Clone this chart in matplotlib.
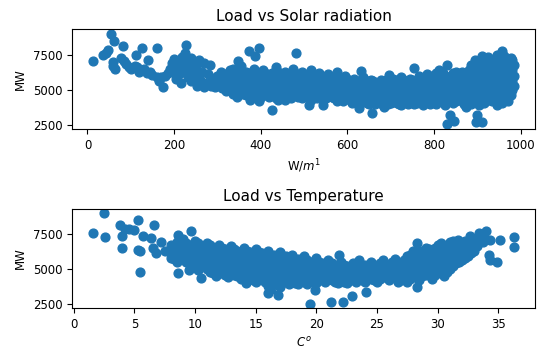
import matplotlib
matplotlib.use("Agg")
import matplotlib.pyplot as plt

# --- Load vs Solar radiation (W/m^1, MW) ---
solar_pts = [
    (13, 7050), (37, 7500), (42, 7650), (48, 7800), (54, 9000), (58, 6950), (60, 6700),
    (62, 8450), (64, 6450), (82, 8150), (78, 7250), (85, 7050), (90, 6850), (95, 6600),
    (100, 6500), (112, 7500), (110, 6700), (115, 6600), (120, 6300), (126, 7950),
    (130, 6500), (138, 6200), (140, 7150), (145, 6300), (150, 6050), (161, 8000),
    (160, 5900), (165, 5600), (170, 5900), (175, 5200), (180, 5950), (185, 6200),
    (190, 6500), (195, 6900), (198, 6300), (200, 7200), (205, 5800), (205, 6600),
    (210, 7000), (212, 6100), (215, 5500), (218, 7300), (220, 6700), (222, 6300),
    (225, 7600), (228, 8200), (230, 6900), (232, 5900), (235, 6500), (238, 7250),
    (240, 5600), (242, 6200), (245, 7000), (248, 5800), (250, 6600), (252, 5300),
    (255, 6200), (258, 7100), (260, 5700), (262, 5500), (265, 6300), (268, 6900),
    (270, 5200), (275, 5500), (278, 6100), (283, 6740), (285, 5300), (290, 5800),
    (295, 5200), (298, 6000), (300, 5400), (305, 5700), (308, 6300), (310, 5100),
    (315, 5500), (318, 6100), (320, 4900), (325, 5700), (328, 6400), (330, 5300),
    (335, 6500), (335, 5900), (335, 5300), (335, 4700),
    (345, 6200), (345, 5600), (345, 5000), (345, 4500), (348, 7020),
    (355, 6700), (355, 5800), (355, 5200), (355, 4800),
    (365, 6300), (365, 5500), (365, 4600), (372, 7740),
    (375, 6000), (375, 5300), (375, 4900), (375, 4300), (386, 7380),
    (385, 6500), (385, 5700), (385, 5100), (397, 7980),
    (395, 6100), (395, 5400), (395, 4700), (395, 4200),
    (405, 6400), (405, 5800), (405, 5000),
    (415, 6000), (415, 5400), (415, 4600),
    (425, 3570), (425, 6200), (425, 5600), (425, 4900),
    (435, 6600), (435, 5800), (435, 5100), (435, 4400),
    (445, 6000), (445, 5300), (445, 4700),
    (455, 6300), (455, 5600), (455, 4900), (455, 4300),
    (465, 5900), (465, 5200), (465, 4600),
    (475, 6500), (475, 5500), (475, 4800), (482, 7620),
    (485, 6100), (485, 5300), (485, 4500),
    (495, 6300), (495, 5700), (495, 5000), (495, 4400),
    (505, 5900), (505, 5200), (505, 4700), (512, 3930),
    (515, 6400), (515, 5500), (515, 4900), (515, 4300),
    (525, 6000), (525, 5300), (525, 4600),
    (535, 6200), (535, 5600), (535, 4900), (543, 3930),
    (545, 5800), (545, 5100), (545, 4400),
    (555, 6100), (555, 5400), (555, 4700),
    (565, 5900), (565, 5100), (565, 4500),
    (575, 6300), (575, 5600), (575, 4800), (575, 4200),
    (585, 5700), (585, 5000), (585, 4400),
    (595, 6000), (595, 5300), (595, 4600),
    (605, 5500), (605, 4900), (605, 4300),
    (615, 5800), (615, 5100), (615, 4500), (627, 3690),
    (625, 5600), (625, 4800), (625, 4200), (631, 6310),
    (635, 5900), (635, 5200), (635, 4600),
    (645, 5400), (645, 4800), (645, 4100),
    (655, 5700), (655, 5000), (655, 4400), (658, 3340),
    (665, 5300), (665, 4600), (665, 4000), (677, 5715),
    (675, 5100), (675, 4500),
    (685, 5600), (685, 4900), (685, 4200), (685, 3800), (697, 6070),
    (695, 5300), (695, 4600), (695, 4000),
    (705, 5800), (705, 5100), (705, 4400),
    (715, 5500), (715, 4800), (715, 4100),
    (725, 5900), (725, 5200), (725, 4500), (725, 3900),
    (735, 5400), (735, 4700), (735, 4200),
    (745, 5800), (745, 5100), (745, 4400), (754, 6550),
    (755, 5500), (755, 4800), (755, 4000),
    (765, 6000), (765, 5300), (765, 4600),
    (775, 5700), (775, 5000), (775, 4300), (775, 3900),
    (785, 6100), (785, 5500), (785, 4800), (785, 4200),
    (795, 5800), (795, 5100), (795, 4500),
    (805, 6200), (805, 5400), (805, 4700), (805, 4000), (812, 6430),
    (815, 5700), (815, 5000), (815, 4300),
    (825, 6000), (825, 5300), (825, 4600), (825, 3900), (829, 6790),
    (831, 2550), (838, 3220), (846, 2800),
    (835, 5700), (835, 5000), (835, 4400),
    (845, 6200), (845, 5500), (845, 4800), (845, 4100),
    (855, 5900), (855, 5200), (855, 4500),
    (865, 6300), (865, 5600), (865, 4900), (865, 4200),
    (875, 5800), (875, 5100), (875, 4400), (875, 3800),
    (885, 6800), (885, 6100), (885, 5400), (885, 4700), (885, 4000),
    (895, 7100), (895, 6400), (895, 5700), (895, 5000), (895, 4300),
    (896, 2740), (900, 3220), (911, 7380), (911, 2740),
    (905, 6700), (905, 6000), (905, 5300), (905, 4600), (905, 3900),
    (915, 6900), (915, 6200), (915, 5500), (915, 4800), (915, 4100),
    (925, 7300), (925, 6600), (925, 5900), (925, 5200), (925, 4500),
    (935, 7000), (935, 6300), (935, 5600), (935, 4900), (935, 4200),
    (945, 7500), (945, 6700), (945, 6000), (945, 5300), (945, 4600), (945, 3950),
    (957, 7740), (957, 6900), (957, 6200), (957, 5500), (957, 4800), (957, 4100),
    (965, 7300), (965, 6500), (965, 5800), (965, 5100), (965, 4400),
    (977, 7260), (977, 6600), (977, 5900), (977, 5200), (977, 4600),
    (985, 6800), (985, 6000), (985, 5300),
    # staggered readings inside the dense band
    (340, 6000), (340, 5400), (340, 4900), (350, 6400), (350, 5700), (350, 5000),
    (360, 6000), (360, 5300), (360, 4700), (370, 6200), (370, 5600), (370, 5000),
    (380, 5900), (380, 5200), (380, 4600), (390, 6300), (390, 5500), (390, 4900),
    (400, 6000), (400, 5300), (400, 4500), (410, 6200), (410, 5600), (410, 4900),
    (420, 5800), (420, 5100), (420, 4500), (430, 6100), (430, 5400), (430, 4700),
    (440, 6300), (440, 5600), (440, 4900), (440, 4300), (450, 5800), (450, 5100),
    (450, 4500), (460, 6100), (460, 5400), (460, 4800), (470, 5700), (470, 5000),
    (470, 4400), (480, 6000), (480, 5200), (480, 4600), (490, 5800), (490, 5100),
    (490, 4700), (500, 6100), (500, 5400), (500, 4800), (510, 5700), (510, 5000),
    (510, 4500), (520, 5900), (520, 5200), (520, 4600), (530, 5700), (530, 5000),
    (530, 4400), (540, 6000), (540, 5300), (540, 4600), (550, 5600), (550, 5000),
    (550, 4400), (560, 5800), (560, 5200), (560, 4600), (570, 5500), (570, 4900),
    (570, 4400), (580, 5900), (580, 5300), (580, 4600), (590, 5500), (590, 4800),
    (590, 4200), (600, 5800), (600, 5100), (600, 4500), (610, 5400), (610, 4700),
    (610, 4100), (620, 5600), (620, 5000), (620, 4400), (630, 5300), (630, 4700),
    (630, 4100), (640, 5700), (640, 5000), (640, 4400), (650, 5300), (650, 4600),
    (650, 4000), (660, 5600), (660, 4900), (660, 4300), (670, 5400), (670, 4800),
    (670, 4200), (680, 5200), (680, 4600), (680, 4000), (690, 5700), (690, 5000),
    (690, 4400), (700, 5300), (700, 4700), (700, 4100), (710, 5700), (710, 5000),
    (710, 4400), (720, 5300), (720, 4600), (720, 4000), (730, 5700), (730, 5000),
    (730, 4400), (740, 5300), (740, 4600), (740, 4000), (750, 5700), (750, 5100),
    (750, 4500), (760, 5400), (760, 4700), (760, 4100), (770, 5800), (770, 5100),
    (770, 4500), (780, 5500), (780, 4900), (780, 4100), (790, 6000), (790, 5300),
    (790, 4700), (790, 4000), (800, 5600), (800, 5000), (800, 4300), (810, 5900),
    (810, 5200), (810, 4500), (820, 6200), (820, 5600), (820, 4900), (820, 4200),
    (830, 5800), (830, 5100), (830, 4400), (840, 6000), (840, 5300), (840, 4700),
    (850, 6300), (850, 5600), (850, 4900), (850, 4200), (860, 5800), (860, 5100),
    (860, 4400), (870, 6000), (870, 5300), (870, 4600), (870, 4000), (880, 6400),
    (880, 5700), (880, 5000), (880, 4300), (890, 6700), (890, 6000), (890, 5300),
    (890, 4600), (900, 7000), (900, 6300), (900, 5600), (900, 4900), (900, 4200),
    (910, 6500), (910, 5800), (910, 5100), (910, 4400), (920, 7000), (920, 6300),
    (920, 5600), (920, 4900), (920, 4200), (930, 6700), (930, 6000), (930, 5300),
    (930, 4600), (940, 7200), (940, 6500), (940, 5800), (940, 5100), (940, 4400),
    (950, 7000), (950, 6300), (950, 5600), (950, 4900), (950, 4300), (960, 7500),
    (960, 6700), (960, 6000), (960, 5300), (960, 4600), (970, 7000), (970, 6300),
    (970, 5600), (970, 4900), (970, 4200), (980, 7100), (980, 6400), (980, 5600),
    (980, 5000),
]
solar = [p[0] for p in solar_pts]
load_solar = [p[1] for p in solar_pts]

# --- Load vs Temperature (C, MW) ---
temp_pts = [
    (1.6, 7550), (2.5, 8930), (2.6, 7260), (3.8, 8095), (4.0, 7310), (4.0, 6480),
    (4.2, 7800), (4.6, 7850), (5.0, 7750), (5.3, 8430), (5.3, 6360), (5.5, 6240),
    (5.5, 4810), (5.7, 7310), (6.4, 7190), (6.6, 8095), (6.5, 6500), (7.2, 6900),
    (6.8, 6100), (7.5, 6300), (8.0, 5800), (8.6, 7430), (8.6, 4690), (9.7, 7670),
    (8.0, 6700), (8.0, 6200),
    (8.5, 6900), (8.5, 6000), (8.5, 5500),
    (9.0, 7100), (9.0, 6400), (9.0, 5800),
    (9.5, 6700), (9.5, 6100), (9.5, 5400), (9.5, 4900),
    (10.0, 7000), (10.0, 6300), (10.0, 5700), (10.0, 5100),
    (10.5, 6600), (10.5, 6000), (10.5, 5400), (10.5, 4330),
    (11.0, 6800), (11.0, 6200), (11.0, 5600), (11.0, 5000),
    (11.5, 6500), (11.5, 5900), (11.5, 5300), (11.5, 4700),
    (12.0, 6700), (12.0, 6100), (12.0, 5500), (12.0, 4900),
    (12.5, 6400), (12.5, 5800), (12.5, 5200), (12.5, 4600),
    (13.0, 6600), (13.0, 6000), (13.0, 5400), (13.0, 4800),
    (13.5, 6300), (13.5, 5700), (13.5, 5100), (13.5, 4500),
    (14.0, 6500), (14.0, 5900), (14.0, 5300), (14.0, 4700), (14.2, 3980),
    (14.5, 6200), (14.5, 5600), (14.5, 5000), (14.5, 4400),
    (15.0, 6400), (15.0, 5800), (15.0, 5200), (15.0, 4600), (15.0, 4100),
    (15.5, 6100), (15.5, 5500), (15.5, 4900), (15.5, 4300),
    (16.0, 6300), (16.0, 5700), (16.0, 5100), (16.0, 4500), (16.0, 3270), (16.0, 3800),
    (16.5, 6000), (16.5, 5400), (16.5, 4800), (16.5, 4200), (16.8, 3150),
    (17.0, 6200), (17.0, 5600), (17.0, 5000), (17.0, 4400), (17.0, 3700),
    (17.5, 5900), (17.5, 5300), (17.5, 4700), (17.5, 4100),
    (18.0, 6000), (18.0, 5400), (18.0, 4800), (18.0, 4200),
    (18.5, 5700), (18.5, 5100), (18.5, 4500), (18.5, 3900),
    (19.0, 5900), (19.0, 5300), (19.0, 4700), (19.0, 4100),
    (19.5, 5500), (19.5, 4900), (19.5, 4300), (19.5, 2550), (19.9, 3500),
    (20.0, 5800), (20.0, 5200), (20.0, 4600), (20.0, 4000),
    (20.5, 5400), (20.5, 4800), (20.5, 4200),
    (21.0, 5600), (21.0, 5000), (21.0, 4400), (21.2, 2670),
    (21.5, 5300), (21.5, 4700), (21.5, 4100), (21.9, 6000),
    (22.0, 5500), (22.0, 4900), (22.0, 4300), (22.2, 2670),
    (22.5, 5200), (22.5, 4600), (22.5, 4000), (22.9, 3100),
    (23.0, 5400), (23.0, 4800), (23.0, 4200),
    (23.5, 5600), (23.5, 5000), (23.5, 4400),
    (24.0, 5300), (24.0, 4700), (24.0, 4100), (24.1, 3340),
    (24.5, 5500), (24.5, 4900), (24.5, 4300),
    (25.0, 5200), (25.0, 4600), (25.0, 4100),
    (25.5, 5600), (25.5, 5000), (25.5, 4400),
    (26.0, 5300), (26.0, 4700), (26.0, 4200),
    (26.5, 5700), (26.5, 5100), (26.5, 4500),
    (27.0, 5400), (27.0, 4800), (27.0, 4200),
    (27.5, 5900), (27.5, 5300), (27.5, 4700), (27.5, 4100),
    (28.0, 6300), (28.0, 5600), (28.0, 5000), (28.0, 4400),
    (28.3, 6830), (28.3, 3690),
    (28.5, 6000), (28.5, 5400), (28.5, 4800), (28.5, 4200),
    (29.0, 6500), (29.0, 5800), (29.0, 5200), (29.0, 4600),
    (29.5, 6200), (29.5, 5600), (29.5, 5000), (29.5, 4300),
    (30.0, 6700), (30.0, 6100), (30.0, 5500), (30.0, 4800),
    (30.5, 6400), (30.5, 5800), (30.5, 5200), (30.5, 4500),
    (31.0, 6900), (31.0, 6300), (31.0, 5700), (31.0, 5000),
    (31.5, 6600), (31.5, 6000), (31.5, 5400), (31.7, 7070),
    (32.0, 6800), (32.0, 6200), (32.0, 5600),
    (32.5, 6500), (32.5, 5900), (32.7, 7310),
    (33.0, 6900), (33.0, 6300), (33.4, 7550),
    (34.0, 7670), (34.2, 6000), (34.3, 5640), (34.3, 7020),
    (34.9, 5520), (35.1, 7070), (36.3, 7240), (36.3, 6520),
    # staggered readings inside the dense band
    (8.25, 6400), (8.25, 5700), (8.75, 6600), (8.75, 6100), (9.25, 6800), (9.25, 6000),
    (9.25, 5500), (9.75, 6400), (9.75, 5800), (9.75, 5100), (10.25, 6800), (10.25, 6200),
    (10.25, 5500), (10.25, 4900), (10.75, 6500), (10.75, 5800), (10.75, 5200),
    (11.25, 6700), (11.25, 6000), (11.25, 5400), (11.25, 4800), (11.75, 6300),
    (11.75, 5700), (11.75, 5100), (11.75, 4500), (12.25, 6500), (12.25, 5900),
    (12.25, 5300), (12.25, 4700), (12.75, 6200), (12.75, 5600), (12.75, 5000),
    (12.75, 4400), (13.25, 6400), (13.25, 5800), (13.25, 5200), (13.25, 4600),
    (13.75, 6100), (13.75, 5500), (13.75, 4900), (13.75, 4300), (14.25, 6300),
    (14.25, 5700), (14.25, 5100), (14.25, 4500), (14.75, 6000), (14.75, 5400),
    (14.75, 4800), (14.75, 4200), (15.25, 6200), (15.25, 5600), (15.25, 5000),
    (15.25, 4400), (15.75, 5900), (15.75, 5300), (15.75, 4700), (15.75, 4100),
    (16.25, 6000), (16.25, 5400), (16.25, 4800), (16.25, 4200), (16.25, 3600),
    (16.75, 5800), (16.75, 5200), (16.75, 4600), (16.75, 4000), (17.25, 5900),
    (17.25, 5300), (17.25, 4700), (17.25, 4100), (17.75, 5600), (17.75, 5000),
    (17.75, 4400), (17.75, 3900), (18.25, 5700), (18.25, 5100), (18.25, 4500),
    (18.25, 4000), (18.75, 5500), (18.75, 4900), (18.75, 4300), (19.25, 5600),
    (19.25, 5000), (19.25, 4400), (19.25, 3900), (19.75, 5300), (19.75, 4700),
    (19.75, 4100), (20.25, 5500), (20.25, 4900), (20.25, 4300), (20.75, 5200),
    (20.75, 4600), (20.75, 4100), (21.25, 5400), (21.25, 4800), (21.25, 4200),
    (21.75, 5100), (21.75, 4500), (21.75, 4000), (22.25, 5300), (22.25, 4700),
    (22.25, 4100), (22.75, 5000), (22.75, 4400), (23.25, 5200), (23.25, 4600),
    (23.25, 4100), (23.75, 5300), (23.75, 4700), (23.75, 4200), (24.25, 5000),
    (24.25, 4500), (24.75, 5300), (24.75, 4700), (24.75, 4200), (25.25, 5400),
    (25.25, 4800), (25.25, 4300), (25.75, 5100), (25.75, 4600), (26.25, 5500),
    (26.25, 4900), (26.25, 4400), (26.75, 5300), (26.75, 4700), (26.75, 4100),
    (27.25, 5600), (27.25, 5000), (27.25, 4500), (27.75, 6000), (27.75, 5400),
    (27.75, 4800), (27.75, 4300), (28.25, 6200), (28.25, 5700), (28.25, 5100),
    (28.25, 4500), (28.75, 6300), (28.75, 5700), (28.75, 5100), (28.75, 4500),
    (29.25, 6400), (29.25, 5900), (29.25, 5300), (29.25, 4700), (29.75, 6500),
    (29.75, 5900), (29.75, 5300), (29.75, 4600), (30.25, 6800), (30.25, 6200),
    (30.25, 5600), (30.25, 5000), (30.75, 6700), (30.75, 6100), (30.75, 5500),
    (30.75, 4800), (31.25, 7000), (31.25, 6400), (31.25, 5800), (31.25, 5200),
    (31.75, 6700), (31.75, 6100), (31.75, 5500), (32.25, 7000), (32.25, 6400),
    (32.25, 5800), (32.75, 6700), (32.75, 6100), (33.25, 7200), (33.25, 6600),
    (33.75, 7400), (33.75, 6900),
]
temperature = [p[0] for p in temp_pts]
load_temp = [p[1] for p in temp_pts]

y_ticks = [2500, 5000, 7500]

plt.rcParams['font.size'] = 8.5

fig = plt.figure(figsize=(5.5, 3.63), dpi=100)

ax1 = fig.add_axes([0.131, 0.645, 0.842, 0.275])
ax1.scatter(solar, load_solar, s=40)
ax1.set_yticks(y_ticks)
ax1.set_title('Load vs Solar radiation', fontsize=11)
ax1.set_xlabel('W/$m^1$')
ax1.set_ylabel('MW')

ax2 = fig.add_axes([0.131, 0.1515, 0.842, 0.273])
ax2.scatter(temperature, load_temp, s=40)
ax2.set_yticks(y_ticks)
ax2.set_title('Load vs Temperature', fontsize=11)
ax2.set_xlabel('$C^o$')
ax2.set_ylabel('MW')

fig.savefig('out.png', dpi=100)
